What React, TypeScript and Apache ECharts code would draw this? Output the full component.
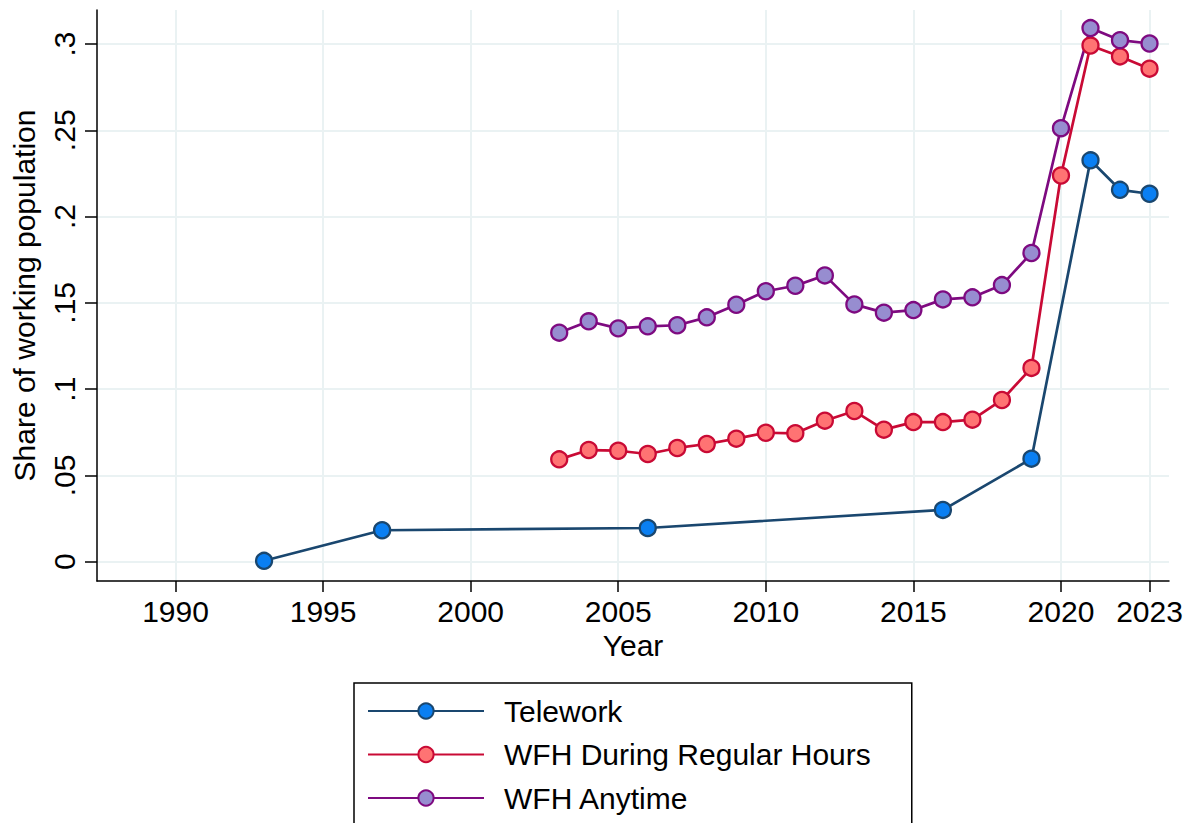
import React, { useEffect, useRef } from "react";
import * as echarts from "echarts";

const seriesNames = ["Telework", "WFH During Regular Hours", "WFH Anytime"];

const teleworkYears = [1993, 1997, 2006, 2016, 2019, 2021, 2022, 2023];
const teleworkValues = [0.0005, 0.0182, 0.0195, 0.030, 0.0597, 0.2326, 0.2155, 0.2132];

const wfhYears = [2003, 2004, 2005, 2006, 2007, 2008, 2009, 2010, 2011, 2012, 2013, 2014, 2015, 2016, 2017, 2018, 2019, 2020, 2021, 2022, 2023];
const wfhRegularValues = [0.0593, 0.0647, 0.0643, 0.0624, 0.0659, 0.0682, 0.0713, 0.0747, 0.0744, 0.0817, 0.0873, 0.0765, 0.0809, 0.0809, 0.0823, 0.0937, 0.1123, 0.2238, 0.2991, 0.2928, 0.2857];
const wfhAnytimeValues = [0.1327, 0.1393, 0.1352, 0.1364, 0.1370, 0.1416, 0.1489, 0.1567, 0.1599, 0.1659, 0.1491, 0.1443, 0.1458, 0.1520, 0.1532, 0.1603, 0.1789, 0.2512, 0.3092, 0.3022, 0.3003];

const xTickValues = [1990, 1995, 2000, 2005, 2010, 2015, 2020, 2023];
const yTickValues = [0, 0.05, 0.1, 0.15, 0.2, 0.25, 0.3];

const FONT = "'Liberation Sans', Arial, Helvetica, sans-serif";
const FS = 30;

function pairs(xs: number[], ys: number[]) {
  return xs.map((x, i) => [x, ys[i]]);
}

function fmtY(v: number) {
  if (Math.abs(v) < 1e-9) return "0";
  return v.toFixed(2).replace(/0+$/, "").replace(/^0/, "");
}

export default function App() {
  const ref = useRef<HTMLDivElement>(null);
  useEffect(() => {
    if (!ref.current) return;
    const chart = echarts.init(ref.current, undefined, { renderer: "svg" });
    const lineColors = ["#1a476f", "#c90a35", "#7e0a80"];
    const fillColors = ["#0a7ff2", "#ff7373", "#978dd0"];
    const datasets = [
      pairs(teleworkYears, teleworkValues),
      pairs(wfhYears, wfhRegularValues),
      pairs(wfhYears, wfhAnytimeValues),
    ];
    chart.setOption({
      animation: false,
      backgroundColor: "#ffffff",
      textStyle: { fontFamily: FONT },
      grid: { left: 97, top: 10, width: 1072, height: 571, containLabel: false },
      xAxis: {
        type: "value",
        min: 1987.34,
        max: 2023.66,
        name: "Year",
        nameLocation: "middle",
        nameGap: 49,
        nameTextStyle: { fontSize: FS, color: "#000", fontFamily: FONT },
        axisLine: { show: true, onZero: false, lineStyle: { color: "#000", width: 1.5 } },
        axisTick: { show: true, length: 11, customValues: xTickValues, lineStyle: { color: "#000", width: 1.5 } },
        axisLabel: { customValues: xTickValues, fontSize: FS, color: "#000", margin: 15, fontFamily: FONT, formatter: (v: number) => String(Math.round(v)) },
        splitLine: { show: true, lineStyle: { color: "#eaf2f3", width: 2 } },
      },
      yAxis: {
        type: "value",
        min: -0.0112,
        max: 0.3197,
        name: "Share of working population",
        nameLocation: "middle",
        nameGap: 58,
        nameTextStyle: { fontSize: FS, color: "#000", fontFamily: FONT },
        axisLine: { show: true, onZero: false, lineStyle: { color: "#000", width: 1.5 } },
        axisTick: { show: true, length: 12, customValues: yTickValues, lineStyle: { color: "#000", width: 1.5 } },
        axisLabel: { customValues: yTickValues, rotate: 90, fontSize: FS, color: "#000", margin: 18, fontFamily: FONT, formatter: fmtY },
        splitLine: { show: true, lineStyle: { color: "#eaf2f3", width: 2 } },
      },
      legend: {
        orient: "vertical",
        left: 354,
        top: 683,
        height: 125,
        padding: [13, 41, 15, 13],
        itemWidth: 116,
        itemHeight: 19,
        itemGap: 13.5,
        borderColor: "#000",
        borderWidth: 1.5,
        borderRadius: 0,
        textStyle: { fontSize: FS, color: "#000", fontFamily: FONT, lineHeight: 30, padding: [0, 0, 0, 15] },
        data: seriesNames,
      },
      series: seriesNames.map((name, i) => ({
        name,
        type: "line",
        data: datasets[i],
        symbol: "circle",
        symbolSize: 16,
        showSymbol: true,
        lineStyle: { color: lineColors[i], width: 2.7 },
        itemStyle: { color: fillColors[i], borderColor: lineColors[i], borderWidth: 2.3 },
        emphasis: { disabled: true },
      })),
    });
    return () => chart.dispose();
  }, []);
  return (
    <div
      ref={ref}
      style={{ position: "fixed", left: 0, top: 0, width: 1195, height: 823, background: "#fff" }}
    />
  );
}
